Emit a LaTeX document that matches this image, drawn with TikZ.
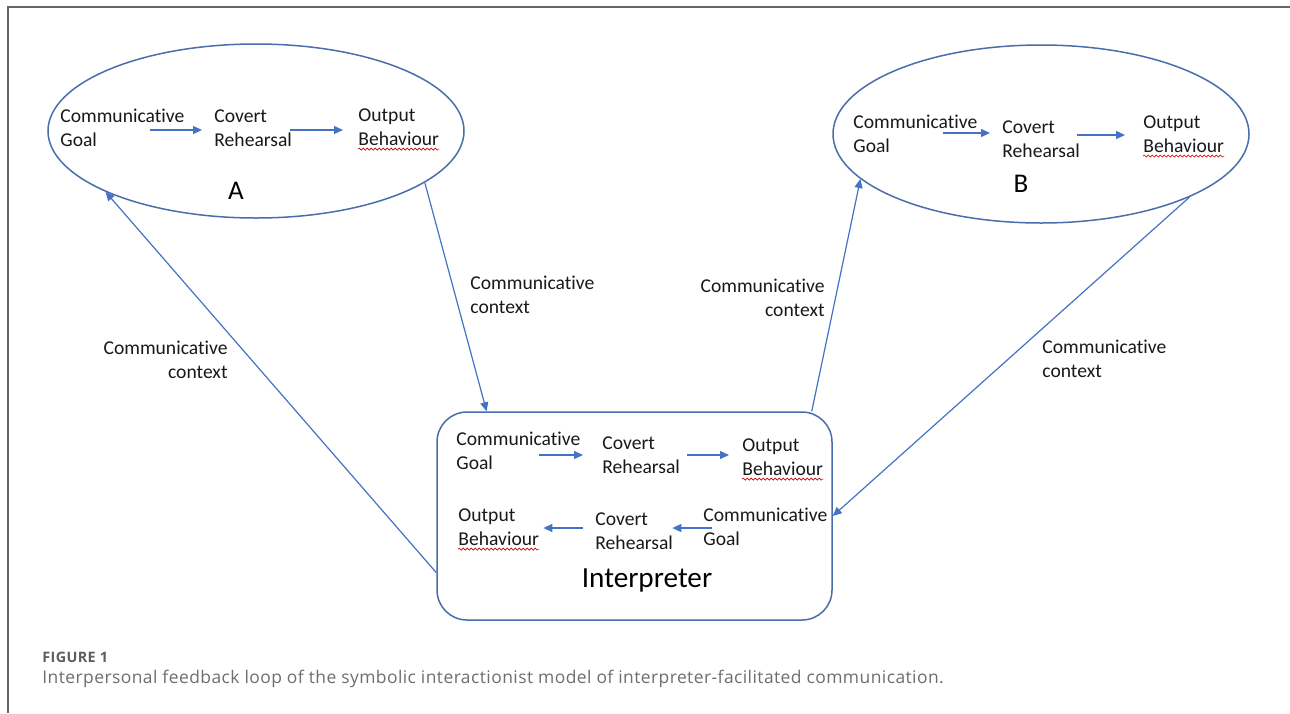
\documentclass[tikz,border=0pt]{standalone}
\usepackage{fontspec}
\setmainfont{Carlito}[Ligatures=NoCommon]
\newfontfamily\capfont{Open Sans}[LetterSpace=2.5]
\usetikzlibrary{shapes.geometric,arrows.meta,calc,decorations.pathmorphing}

\definecolor{lineblue}{HTML}{4472C4}
\definecolor{shapeblue}{HTML}{4A6EAB}
\definecolor{framegray}{HTML}{666666}
\definecolor{capgray}{HTML}{6E6E6E}

\tikzset{
    txt/.style={inner sep=0pt, align=left, anchor=west, text=black!90, font=\fontsize{9.8pt}{12.25pt}\selectfont},
    flow/.style={lineblue, line width=0.65pt, -{Triangle[length=4.5pt,width=4pt]}},
    ctx/.style={lineblue, line width=0.6pt, -{Triangle[length=4.5pt,width=4pt]}},
    bubble/.style={draw=shapeblue, line width=0.75pt, ellipse, inner sep=0pt, minimum width=208pt, minimum height=87pt},
    squig/.style={red!85!black, line width=0.3pt, decorate, decoration={snake, amplitude=0.5pt, segment length=2pt}}
}

\begin{document}
\begin{tikzpicture}[x=0.5pt, y=-0.5pt]
    \useasboundingbox (0,0) rectangle (1290,713);
    \fill[white] (0,0) rectangle (1290,713);
    \draw[framegray, line width=0.8pt] (8,713) -- (8,7) -- (1290,7);

    % person A
    \node[bubble](ellA) at (256,131){};
    \node[txt](aGoal) at (60,128){Communicative\\Goal};
    \node[txt](aCovert) at (214,128){Covert\\Rehearsal};
    \node[txt](aOutput) at (358,127){Output\\Behaviour};
    \node[font=\fontsize{13.5pt}{15pt}\selectfont](aName) at (236,191){A};
    \draw[flow] ($(aGoal.east)+(-35,2)$) -- ($(aGoal.east -| aCovert.west)+(-12,2)$);
    \draw[flow] ($(aCovert.east)+(-2,2)$) -- ($(aCovert.east -| aOutput.west)+(-15,2)$);

    % person B
    \node[bubble, minimum height=89pt](ellB) at (1041,134){};
    \node[txt](bGoal) at (853,134){Communicative\\Goal};
    \node[txt](bCovert) at (1002,139){Covert\\Rehearsal};
    \node[txt](bOutput) at (1143,134){Output\\Behaviour};
    \node[font=\fontsize{13.5pt}{15pt}\selectfont](bName) at (1021,184){B};
    \draw[flow] ($(bGoal.east)+(-35,-1)$) -- ($(bGoal.east -| bCovert.west)+(-12,-1)$);
    \draw[flow] ($(bCovert.east)+(-3,-4)$) -- ($(bCovert.east -| bOutput.west)+(-18,-4)$);

    % interpreter
    \node[draw=shapeblue, line width=0.75pt, rectangle, rounded corners=15pt, minimum width=197.5pt, minimum height=104pt](interp) at (634.5,516){};
    \node[txt](iGoalT) at (456,451){Communicative\\Goal};
    \node[txt](iCovertT) at (602,455){Covert\\Rehearsal};
    \node[txt](iOutputT) at (742,457){Output\\Behaviour};
    \node[txt](iOutputB) at (458,527){Output\\Behaviour};
    \node[txt](iCovertB) at (595,531){Covert\\Rehearsal};
    \node[txt](iGoalB) at (703,527){Communicative\\Goal};
    \node[font=\fontsize{14.6pt}{17pt}\selectfont](iName) at (647,580){Interpreter};
    \draw[flow] ($(iGoalT.east)+(-42,4)$) -- ($(iGoalT.east -| iCovertT.west)+(-19,4)$);
    \draw[flow] ($(iCovertT.east)+(7,0)$) -- ($(iCovertT.east -| iOutputT.west)+(-13,0)$);
    \draw[flow] ($(iGoalB.west)+(9,1)$) -- ($(iGoalB.west -| iCovertB.east)+(-1,1)$);
    \draw[flow] ($(iCovertB.west)+(-12,-3)$) -- ($(iCovertB.west -| iOutputB.east)+(4,-3)$);

    % spelling marks
    \foreach \n in {aOutput,bOutput,iOutputT,iOutputB}
        \draw[squig] ($(\n.south west)+(0,3)$) -- ($(\n.south east)+(0,3)$);

    % feedback loop
    \draw[ctx] (ellA.-17) -- ($(interp.north west)!0.127!(interp.north east)$);
    \draw[ctx] ($(interp.north west)!0.77!(interp.south west)$) -- (ellA.-158);
    \draw[ctx] ($(interp.north west)!0.947!(interp.north east)$) -- (ellB.-166);
    \draw[ctx] (ellB.-23) -- (interp.east);
    \node[txt](ctxOne) at (470,295){Communicative\\context};
    \node[txt, align=right, anchor=east](ctxTwo) at (228,360){Communicative\\context};
    \node[txt, align=right, anchor=east](ctxThree) at (825,298){Communicative\\context};
    \node[txt](ctxFour) at (1042,359){Communicative\\context};

    % caption
    \node[anchor=west, inner sep=0pt, text=capgray!85!black, font=\capfont\bfseries\fontsize{7.2pt}{8pt}\selectfont](figNo) at (42,657){FIGURE 1};
    \node[anchor=west, inner sep=0pt, text=capgray, font=\capfont\fontsize{8.72pt}{10pt}\selectfont](figCap) at (42,679){Interpersonal feedback loop of the symbolic interactionist model of interpreter-facilitated communication.};
\end{tikzpicture}
\end{document}
